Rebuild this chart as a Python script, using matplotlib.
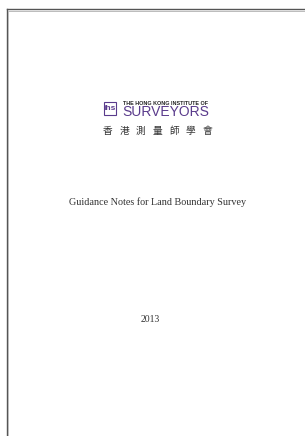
import matplotlib.pyplot as plt
from matplotlib.patches import Rectangle
from matplotlib.lines import Line2D

W, H = 305, 436

# page texts
org_small = "THE HONG KONG INSTITUTE OF"
org_big = "SURVEYORS"
org_chinese = ["香", "港", "測", "量", "師", "學", "會"]
title = "Guidance Notes for Land Boundary Survey"
year = "2013"

purple = "#5a3b8c"

fig = plt.figure(figsize=(W / 100, H / 100), dpi=100)
fig.patch.set_facecolor("white")

def fx(x):
    return x / W

def fy(y):
    return 1 - y / H

# page border (top and left only)
fig.add_artist(Line2D([fx(7), fx(305)], [fy(9.5), fy(9.5)], color="#555555", lw=1.0))
fig.add_artist(Line2D([fx(7), fx(305)], [fy(10.8), fy(10.8)], color="#bbbbbb", lw=0.7))
fig.add_artist(Line2D([fx(7), fx(7)], [fy(9.5), fy(436)], color="#555555", lw=1.0))
fig.add_artist(Line2D([fx(8.3), fx(8.3)], [fy(10.8), fy(436)], color="#bbbbbb", lw=0.7))

# logo box
fig.add_artist(Rectangle((fx(104), fy(115.5)), fx(11.5) - fx(0), fy(102) - fy(115.5),
                         fill=False, edgecolor=purple, lw=0.8))
fig.text(fx(109.8), fy(109), "ihs", color=purple, fontsize=6, ha="center", va="center",
         family="Liberation Sans", fontweight="bold")

# org name
fig.text(fx(123), fy(103.5), org_small, color="#222222", fontsize=3.9, fontweight="bold",
         family="Liberation Sans", ha="left", va="center")
fig.text(fx(122.5), fy(112.5), org_big, color=purple, fontsize=10,
         family="Liberation Sans", ha="left", va="center")
x0, x1 = 107.5, 207.5
for i, ch in enumerate(org_chinese):
    x = x0 + i * (x1 - x0) / (len(org_chinese) - 1)
    fig.text(fx(x), fy(131), ch, color="#333333", fontsize=7,
             family=["Noto Sans CJK TC", "DejaVu Sans"], ha="center", va="center")

# title and year
fig.text(fx(158), fy(202), title, color="#333333", fontsize=7.3,
         family="Liberation Serif", ha="center", va="center")
fig.text(fx(150), fy(319), year, color="#333333", fontsize=7,
         family="Liberation Serif", ha="center", va="center")

fig.savefig("out.png", dpi=100, facecolor="white")
